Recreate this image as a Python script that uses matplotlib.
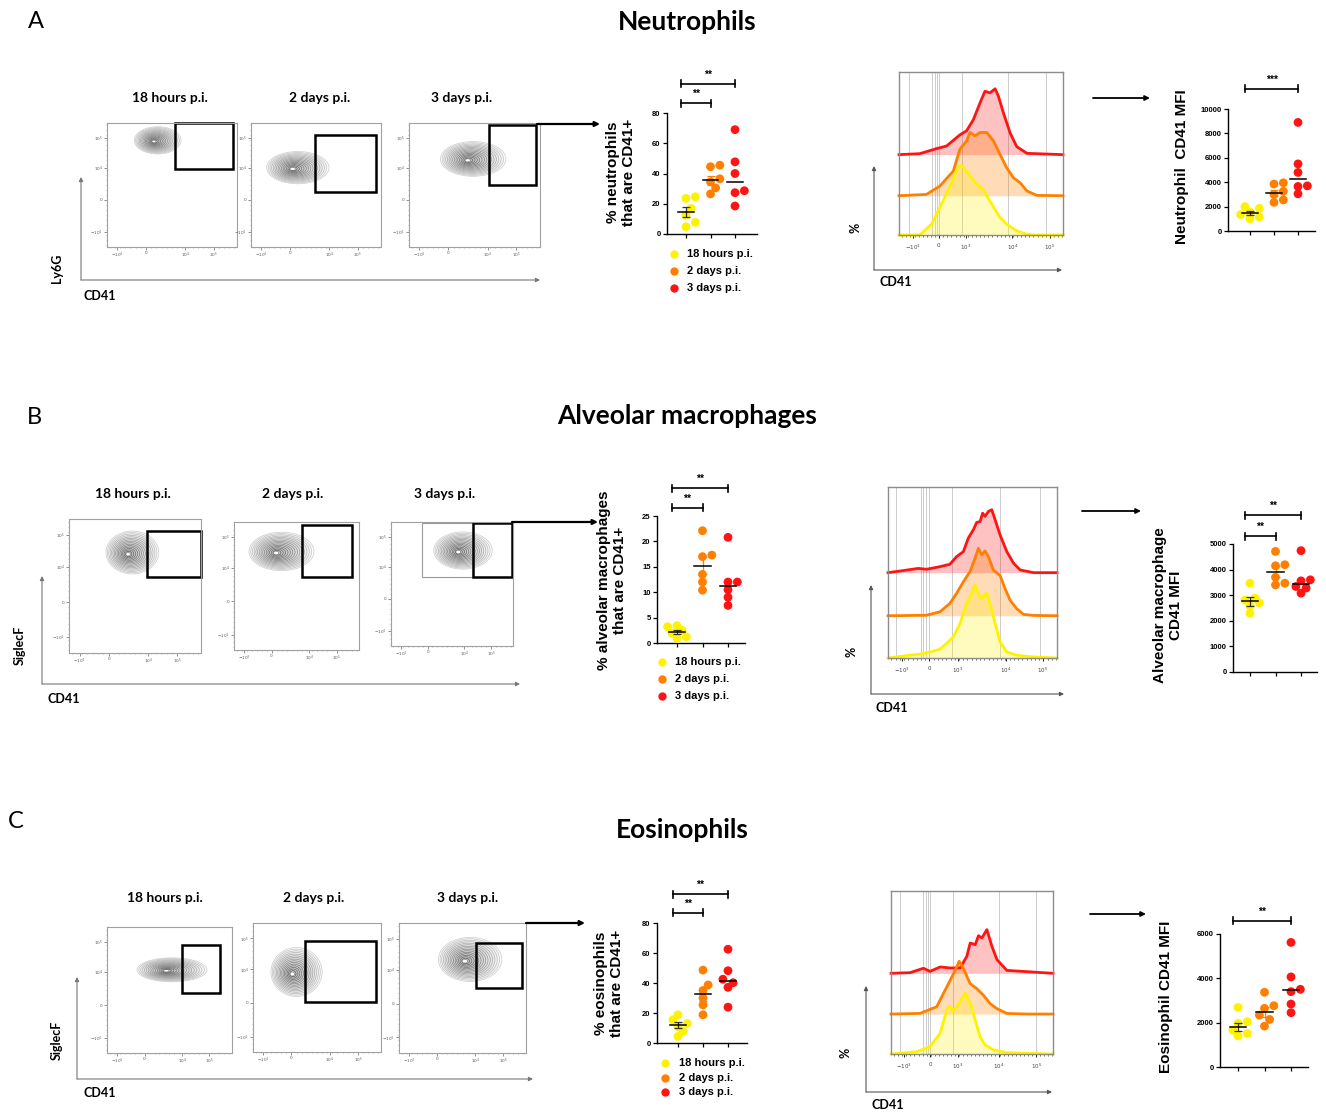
import numpy as np
import matplotlib
matplotlib.use("Agg")
import matplotlib.pyplot as plt
from matplotlib.patches import Ellipse, Rectangle, FancyArrowPatch

W, H = 1326, 1115

# ---- data ----
GROUPS = ["18 hours p.i.", "2 days p.i.", "3 days p.i."]
COLORS = ["#FFF200", "#FF8000", "#FF1414"]
ERR_COLORS = ["#333333", "#FF8000", "#FF1414"]

neut_pct = [[23.5, 24.6, 16.9, 12.5, 7.7, 4.8],
            [45.5, 44.5, 36.5, 34.5, 30.5, 26.5],
            [69.0, 47.7, 40.0, 28.6, 27.3, 18.5]]
neut_mfi = [[2000, 1850, 1550, 1350, 1150, 1000],
            [3950, 3850, 3250, 3000, 2550, 2350],
            [8900, 5500, 4800, 3700, 3650, 3050]]
am_pct = [[3.4, 3.2, 2.5, 1.9, 1.2, 0.9],
          [22.1, 17.3, 17.0, 13.5, 12.0, 10.4],
          [20.8, 12.0, 12.0, 10.5, 9.0, 7.4]]
am_mfi = [[3470, 2880, 2810, 2700, 2580, 2290],
          [4710, 4190, 4150, 3700, 3470, 3400],
          [4740, 3600, 3560, 3340, 3280, 3080]]
eos_pct = [[18.8, 15.5, 13.0, 11.0, 7.7, 4.4],
           [48.6, 38.7, 35.0, 30.0, 25.4, 18.8],
           [62.5, 48.2, 42.5, 40.2, 37.1, 23.9]]
eos_mfi = [[2690, 2040, 1965, 1660, 1510, 1405],
           [3370, 2765, 2645, 2340, 2145, 1845],
           [5620, 4065, 3505, 3400, 2840, 2450]]

# histogram overlays, (CD41 display position %, height %) per time point
neut_h18 = [(0, 0), (12.7, 0), (19.8, 6.6), (24.9, 16.9), (31, 29.7), (35.1, 39.8), (37.1, 42.7),
            (39.2, 41.6), (43.3, 36.3), (47.3, 31.1), (51.4, 28), (55.5, 20.8), (61.6, 10.7),
            (65.7, 6.6), (71.8, 2.5), (78, 0.4), (82, 0), (100, 0)]
neut_h2d = [(0, 24.1), (16.7, 24.9), (24.9, 30), (33.1, 39.2), (37.1, 52.6), (41.2, 57.7), (43.3, 62.9),
            (46.3, 60.8), (49.4, 62.9), (53.5, 62.9), (57.6, 57.7), (61.6, 49.5), (65.7, 41.2),
            (69.8, 35.1), (73.9, 32), (78, 27), (84.1, 24.3), (100, 24.1)]
neut_h3d = [(0, 49.3), (12.7, 49.9), (22.9, 53), (29, 54.6), (37.1, 61.4), (41.2, 63.9), (45.3, 70.7),
            (49.4, 81), (52.4, 88.2), (55.5, 87.2), (58.6, 89.7), (60.6, 85.2), (63.7, 74.8),
            (67.8, 62.5), (71.8, 54.2), (78, 50.1), (100, 49.3)]
am_h18 = [(0, 0), (12.9, 1.6), (18.8, 2.2), (24.8, 3.5), (30.7, 5.1), (35.6, 9.4), (38.6, 12.3),
          (42.6, 20.2), (46.5, 31.9), (49.5, 37.8), (51.5, 42.7), (53.5, 37.8), (55.4, 34.8),
          (58.4, 38.2), (60.4, 31.9), (63.4, 20.2), (66.3, 9.4), (70.3, 3.5), (76.2, 1.6),
          (86.1, 0.6), (100, 0)]
am_h2d = [(0, 24.7), (22.8, 25), (30.7, 27), (36.6, 31.9), (40.6, 37.8), (44.6, 44.6), (48.5, 50.5),
          (51.5, 58.3), (53.5, 64.2), (55.4, 60.3), (57.4, 62.6), (59.4, 59.3), (62.4, 51.3),
          (66.3, 48.3), (69.3, 40.5), (72.3, 33.7), (76.2, 28.8), (80.2, 25.5), (86.1, 24.9), (100, 24.7)]
am_h3d = [(0, 49.9), (8.9, 51.1), (17.8, 52.4), (22.8, 51.9), (30.7, 53.4), (36.6, 54.8), (40.6, 59.3),
          (44.6, 62.2), (47.5, 70.1), (50.5, 75), (52.5, 79.3), (54.5, 79.8), (56, 84.7), (57.4, 82.8),
          (59.4, 85.7), (61.4, 86.7), (63.4, 80.8), (66.3, 72), (70.3, 62.2), (74.3, 55.4),
          (78.2, 51.5), (86.1, 49.9), (100, 49.9)]
eos_h18 = [(0, 0), (15.9, 1.4), (24.1, 4.5), (30.3, 12.7), (34.8, 28.2), (36.5, 29.2), (38.6, 26.2),
           (40.6, 29.2), (42.7, 32.3), (45.8, 37.4), (48.9, 31.3), (52, 20.9), (55, 10.6),
           (58.1, 5.5), (63.3, 2.5), (71.5, 0.8), (100, 0)]
eos_h2d = [(0, 24.5), (17.9, 24.9), (28.2, 29), (34.4, 41.1), (38.6, 49.3), (42.1, 56.9), (44.7, 52.4),
           (48.9, 43.1), (53, 40.1), (57.1, 36), (61.2, 30.9), (65.4, 27.8), (71.5, 24.9),
           (83.9, 24.5), (100, 24.5)]
eos_h3d = [(0, 49.5), (11.8, 49.9), (20, 52.6), (24.1, 50.7), (30.3, 53.4), (36.5, 52.8), (42.7, 52.8),
           (46.8, 59.9), (48.9, 68.1), (52, 67.1), (54, 72.6), (56.1, 71.2), (59.2, 76.3),
           (62.3, 66.1), (65.4, 57.9), (71.5, 51.3), (100, 49.5)]
neut_base = [0, 24.1, 49.3]
am_base = [0, 24.7, 49.9]
eos_base = [0, 24.5, 49.5]

HIST_LABELS = ["$-10^3$", "0", "$10^3$", "$10^4$", "$10^5$"]
neut_hticks = [8.6, 24.3, 40.8, 69.2, 91.8]
am_hticks = [8.3, 24.2, 41.2, 69.7, 91.7]
eos_hticks = [8.2, 24.1, 41.2, 66.4, 89.7]
neut_hgrid = [6.1, 20.4, 22.0, 23.1, 24.3, 38.2, 66.3, 89.6]
am_hgrid = [5.0, 19.4, 20.8, 22.2, 24.2, 37.6, 66.3, 90.1]
eos_hgrid = [5.6, 20.0, 21.6, 22.7, 24.1, 38.1, 66.4, 89.7]

# flow plots: population (cx, cy, w, h) and CD41+ gate (x0, y0, x1, y1), axis fractions
neut_blobs = [(0.39, 0.86, 0.36, 0.22), (0.36, 0.64, 0.48, 0.26), (0.49, 0.71, 0.50, 0.28)]
neut_gates = [(0.52, 0.63, 0.97, 1.0), (0.49, 0.44, 0.96, 0.90), (0.61, 0.50, 0.97, 0.98)]
am_blobs = [(0.48, 0.75, 0.40, 0.32), (0.38, 0.77, 0.52, 0.30), (0.59, 0.77, 0.48, 0.30)]
am_gates = [(0.59, 0.57, 1.0, 0.91), (0.54, 0.57, 0.94, 0.98), (0.67, 0.56, 0.99, 0.99)]
eos_blobs = [(0.52, 0.66, 0.56, 0.19), (0.34, 0.62, 0.40, 0.38), (0.56, 0.72, 0.50, 0.34)]
eos_gates = [(0.60, 0.48, 0.90, 0.86), (0.41, 0.39, 0.96, 0.86), (0.61, 0.50, 0.97, 0.85)]
FLOW_YTICKS = [0.12, 0.38, 0.64, 0.88]
FLOW_XTICKS = [0.08, 0.30, 0.60, 0.82]
FLOW_LABELS = ["$-10^4$", "0", "$10^4$", "$10^5$"]

CAL = "Lato"
ARIAL = "Liberation Sans"

fig = plt.figure(figsize=(W / 100, H / 100), dpi=100)


def rect(l, t, r, b):
    return [l / W, 1 - b / H, (r - l) / W, (b - t) / H]


def ftext(x, y, s, **kw):
    fig.text(x / W, 1 - y / H, s, **kw)


def farrow(x0, y0, x1, y1, lw=1.0, color="black", head=8):
    fig.add_artist(FancyArrowPatch((x0 / W, 1 - y0 / H), (x1 / W, 1 - y1 / H),
                                   transform=fig.transFigure, arrowstyle="-|>",
                                   mutation_scale=head, lw=lw, color=color,
                                   shrinkA=0, shrinkB=0))


def swarm(vals, ppu, gap, dot=8.5):
    # simple beeswarm so near-equal values sit side by side
    placed = []
    offs = np.zeros(len(vals))
    for i in np.argsort(vals):
        y = vals[i] * ppu
        best, best_d = 0.0, -1
        for c in [0, 0.6, -0.6, 1.1, -1.1]:
            x = c * dot
            d = min([np.hypot(x - px, y - py) for px, py in placed] + [99])
            if d >= 0.8 * dot:
                best = x
                break
            if d > best_d:
                best, best_d = x, d
        placed.append((best, y))
        offs[i] = best / gap
    return offs


def flow_panel(box, blob, gate, light_gate=None):
    l, t, r, b = box
    ax = fig.add_axes(rect(l, t, r, b))
    ax.set_xlim(0, 1)
    ax.set_ylim(0, 1)
    cx, cy, w, h = blob
    for s in np.linspace(1.0, 0.06, 16):
        shade = 0.3 + 0.5 * s
        ax.add_patch(Ellipse((cx - 0.08 * w * (1 - s), cy - 0.04 * h * (1 - s)), w * s, h * s,
                             facecolor=(0.5, 0.5, 0.5, 0.04), edgecolor=(shade, shade, shade), lw=0.5))
    ax.add_patch(Ellipse((cx - 0.08 * w, cy - 0.04 * h), w * 0.07, h * 0.07, color="white", lw=0))
    if light_gate:
        x0, y0, x1, y1 = light_gate
        ax.add_patch(Rectangle((x0, y0), x1 - x0, y1 - y0, fill=False, edgecolor="#999999", lw=0.8))
    x0, y0, x1, y1 = gate
    ax.add_patch(Rectangle((x0, y0), x1 - x0, y1 - y0, fill=False, edgecolor="black", lw=1.8, clip_on=False))
    for sp in ax.spines.values():
        sp.set_color("#A0A0A0")
        sp.set_linewidth(0.8)
    ax.set_yticks(FLOW_YTICKS)
    ax.set_yticklabels(FLOW_LABELS)
    ax.set_xticks(FLOW_XTICKS)
    ax.set_xticklabels(FLOW_LABELS)
    ax.set_xticks(np.arange(0.02, 1, 0.04), minor=True)
    ax.set_yticks(np.arange(0.02, 1, 0.04), minor=True)
    ax.tick_params(labelsize=3, length=2, width=0.5, color="#666666", labelcolor="#555555", pad=1)
    ax.tick_params(which="minor", length=1, width=0.4, color="#888888")
    return ax


def hist_panel(box, curves, bases, ticks, grid):
    ax = fig.add_axes(rect(*box))
    ax.set_xlim(0, 100)
    ax.set_ylim(0, 100)
    for gx in grid:
        ax.axvline(gx, color="#CCCCCC", lw=0.7, zorder=0)
    fills = [0.25, 0.28, 0.26]
    for g in [2, 1, 0]:
        xs = [p[0] for p in curves[g]]
        ys = [p[1] for p in curves[g]]
        ax.fill_between(xs, bases[g], ys, color=COLORS[g], alpha=fills[g], lw=0, zorder=1)
        ax.plot(xs, ys, color=COLORS[g], lw=2.0, zorder=2, clip_on=False)
    ax.set_yticks([])
    ax.set_xticks(ticks)
    ax.set_xticklabels(HIST_LABELS)
    ax.set_xticks(np.arange(2, 100, 2.5), minor=True)
    ax.tick_params(axis="x", labelsize=4, length=2.5, width=0.6, labelcolor="#444444", pad=3)
    ax.tick_params(axis="x", which="minor", length=1.5, width=0.4)
    for sp in ax.spines.values():
        sp.set_color("#8C8C8C")
        sp.set_linewidth(1.0)
    return ax


def scatter_panel(xax, top_px, bot_px, xgroup0, gap, xend, ymax, yticks, data, sigs):
    xlo = -(xgroup0 - xax) / gap
    xhi = (xend - xgroup0) / gap
    ax = fig.add_axes(rect(xax, top_px, xend, bot_px))
    ax.set_xlim(xlo, xhi)
    ax.set_ylim(0, ymax)
    ppu = (bot_px - top_px) / ymax
    for g, vals in enumerate(data):
        vals = np.array(vals, dtype=float)
        offs = swarm(vals, ppu, gap)
        ax.scatter(g + offs, vals, s=40, color=COLORS[g], edgecolors="none", zorder=3, clip_on=False)
        med = np.median(vals)
        ax.plot([g - 0.32, g + 0.32], [med, med], color="black", lw=1.1, zorder=5)
        if g < 2:
            sem = vals.std(ddof=1) / np.sqrt(len(vals))
            ax.errorbar(g, med, yerr=sem, color=ERR_COLORS[g], capsize=3, lw=0.9,
                        capthick=0.9, zorder=4)
    cap = 3.5 / ppu
    for g1, g2, yv, txt in sigs:
        x0, x1 = g1 - 0.2, g2
        ax.plot([x0, x1], [yv, yv], color="black", lw=1.2, clip_on=False)
        ax.plot([x0, x0], [yv - cap, yv + cap], color="black", lw=1.2, clip_on=False)
        ax.plot([x1, x1], [yv - cap, yv + cap], color="black", lw=1.2, clip_on=False)
        ax.text((x0 + x1) / 2, yv + 1.2 * cap, txt, ha="center", va="bottom",
                fontsize=7.5, fontweight="bold", family=ARIAL)
    ax.spines["top"].set_visible(False)
    ax.spines["right"].set_visible(False)
    ax.spines["left"].set_linewidth(1.0)
    ax.spines["bottom"].set_linewidth(1.0)
    ax.set_yticks(yticks)
    ax.set_xticks([0, 1, 2])
    ax.set_xticklabels([])
    ax.tick_params(labelsize=5.5, length=3, width=0.9, pad=1.5)
    for lab in ax.get_yticklabels():
        lab.set_fontweight("bold")
        lab.set_family(ARIAL)
    return ax


def legend(xm, xt, ys):
    for g, y in enumerate(ys):
        fig.add_artist(plt.Line2D([xm / W], [1 - y / H], marker="o", markersize=6,
                                  color=COLORS[g], markeredgewidth=0, transform=fig.transFigure))
        ftext(xt, y, GROUPS[g], fontsize=8, fontweight="bold", family=ARIAL, va="center")


# ---------------- row A: neutrophils ----------------
ftext(28, 22, "A", fontsize=17, family=CAL, va="center")
ftext(687, 22, "Neutrophils", fontsize=19, fontweight="bold", family=CAL, ha="center", va="center")
boxesA = [(107, 123, 237, 247), (251, 123, 381, 247), (409, 123, 540, 247)]
titlesA = [170, 320, 462]
for i in range(3):
    flow_panel(boxesA[i], neut_blobs[i], neut_gates[i])
    ftext(titlesA[i], 98, GROUPS[i], fontsize=10, fontweight="bold", family=CAL, ha="center", va="center")
farrow(81, 280, 81, 177, lw=0.8, color="#777777", head=6)
farrow(81, 280, 540, 280, lw=0.8, color="#777777", head=6)
ftext(57, 268, "Ly6G", fontsize=9, fontweight="bold", family=CAL, rotation=90, ha="center", va="center")
ftext(84, 296, "CD41", fontsize=9, fontweight="bold", family=CAL, va="center")
farrow(537, 124, 600, 124, lw=1.6, head=7)

scatter_panel(667, 113, 234, 686, 24.5, 757, 80, [0, 20, 40, 60, 80], neut_pct,
              [(0, 1, 86.6, "**"), (0, 2, 99.2, "**")])
ftext(621, 172, "% neutrophils\nthat are CD41+", fontsize=11, fontweight="bold", family=ARIAL,
      rotation=90, ha="center", va="center", multialignment="center", linespacing=1.15)
legend(674, 687, [254, 271, 288])

hist_panel((899, 72, 1063, 235), [neut_h18, neut_h2d, neut_h3d], neut_base, neut_hticks, neut_hgrid)
farrow(874, 270, 874, 166, lw=0.8, color="#555555", head=6)
farrow(874, 270, 1062, 270, lw=0.8, color="#555555", head=6)
ftext(855, 228, "%", fontsize=9, fontweight="bold", family=CAL, rotation=90, ha="center", va="center")
ftext(880, 282, "CD41", fontsize=9, fontweight="bold", family=CAL, va="center")
farrow(1093, 98, 1150, 98, lw=1.3, head=7)

scatter_panel(1228, 109, 231, 1250, 24, 1315, 10000, [0, 2000, 4000, 6000, 8000, 10000], neut_mfi,
              [(0, 2, 11640, "***")])
ftext(1182, 167, "Neutrophil  CD41 MFI", fontsize=11, fontweight="bold", family=ARIAL,
      rotation=90, ha="center", va="center")

# ---------------- row B: alveolar macrophages ----------------
ftext(27, 418, "B", fontsize=17, family=CAL, va="center")
ftext(687, 416, "Alveolar macrophages", fontsize=19, fontweight="bold", family=CAL, ha="center", va="center")
boxesB = [(69, 519, 201, 653), (234, 522, 359, 650), (391, 522, 513, 646)]
titlesB = [133, 293, 445]
for i in range(3):
    flow_panel(boxesB[i], am_blobs[i], am_gates[i], (0.25, 0.56, 0.67, 0.99) if i == 2 else None)
    ftext(titlesB[i], 494, GROUPS[i], fontsize=10, fontweight="bold", family=CAL, ha="center", va="center")
farrow(42, 684, 42, 576, lw=0.8, color="#777777", head=6)
farrow(42, 684, 520, 684, lw=0.8, color="#777777", head=6)
ftext(20, 645, "SiglecF", fontsize=9, fontweight="bold", family=CAL, rotation=90, ha="center", va="center")
ftext(47, 699, "CD41", fontsize=9, fontweight="bold", family=CAL, va="center")
farrow(512, 522, 598, 522, lw=1.6, head=7)

scatter_panel(657, 516, 643, 677, 25.5, 745, 25, [0, 5, 10, 15, 20, 25], am_pct,
              [(0, 1, 26.6, "**"), (0, 2, 30.5, "**")])
ftext(612, 580, "% alveolar macrophages\nthat are CD41+", fontsize=11, fontweight="bold", family=ARIAL,
      rotation=90, ha="center", va="center", multialignment="center", linespacing=1.15)
legend(662, 675, [662, 679, 696])

hist_panel((888, 487, 1057, 658), [am_h18, am_h2d, am_h3d], am_base, am_hticks, am_hgrid)
farrow(871, 694, 871, 585, lw=0.8, color="#555555", head=6)
farrow(871, 694, 1064, 694, lw=0.8, color="#555555", head=6)
ftext(851, 652, "%", fontsize=9, fontweight="bold", family=CAL, rotation=90, ha="center", va="center")
ftext(876, 708, "CD41", fontsize=9, fontweight="bold", family=CAL, va="center")
farrow(1082, 511, 1141, 511, lw=1.3, head=7)

scatter_panel(1233, 544, 672, 1250, 25.5, 1317, 5000, [0, 1000, 2000, 3000, 4000, 5000], am_mfi,
              [(0, 1, 5310, "**"), (0, 2, 6130, "**")])
ftext(1168, 605, "Alveolar macrophage\nCD41 MFI", fontsize=11, fontweight="bold", family=ARIAL,
      rotation=90, ha="center", va="center", multialignment="center", linespacing=1.15)

# ---------------- row C: eosinophils ----------------
ftext(8, 822, "C", fontsize=17, family=CAL, va="center")
ftext(682, 830, "Eosinophils", fontsize=19, fontweight="bold", family=CAL, ha="center", va="center")
boxesC = [(107, 927, 232, 1053), (253, 923, 381, 1052), (399, 923, 526, 1053)]
titlesC = [165, 314, 468]
for i in range(3):
    flow_panel(boxesC[i], eos_blobs[i], eos_gates[i])
    ftext(titlesC[i], 898, GROUPS[i], fontsize=10, fontweight="bold", family=CAL, ha="center", va="center")
farrow(77, 1079, 77, 977, lw=0.8, color="#777777", head=6)
farrow(77, 1079, 533, 1079, lw=0.8, color="#777777", head=6)
ftext(57, 1040, "SiglecF", fontsize=9, fontweight="bold", family=CAL, rotation=90, ha="center", va="center")
ftext(83, 1093, "CD41", fontsize=9, fontweight="bold", family=CAL, va="center")
farrow(526, 923, 585, 923, lw=1.6, head=7)

scatter_panel(657, 923, 1043, 678, 25, 747, 80, [0, 20, 40, 60, 80], eos_pct,
              [(0, 1, 86.7, "**"), (0, 2, 99.3, "**")])
ftext(609, 983, "% eosinophils\nthat are CD41+", fontsize=11, fontweight="bold", family=ARIAL,
      rotation=90, ha="center", va="center", multialignment="center", linespacing=1.15)
legend(665, 679, [1063, 1078, 1092])

hist_panel((891, 891, 1053, 1054), [eos_h18, eos_h2d, eos_h3d], eos_base, eos_hticks, eos_hgrid)
farrow(866, 1092, 866, 986, lw=0.8, color="#555555", head=6)
farrow(866, 1092, 1052, 1092, lw=0.8, color="#555555", head=6)
ftext(846, 1053, "%", fontsize=9, fontweight="bold", family=CAL, rotation=90, ha="center", va="center")
ftext(872, 1105, "CD41", fontsize=9, fontweight="bold", family=CAL, va="center")
farrow(1090, 914, 1146, 914, lw=1.3, head=7)

scatter_panel(1220, 934, 1067, 1238, 26.5, 1308, 6000, [0, 2000, 4000, 6000], eos_mfi,
              [(0, 2, 6590, "**")])
ftext(1166, 997, "Eosinophil CD41 MFI", fontsize=11, fontweight="bold", family=ARIAL,
      rotation=90, ha="center", va="center")

fig.savefig("out.png", dpi=100)
